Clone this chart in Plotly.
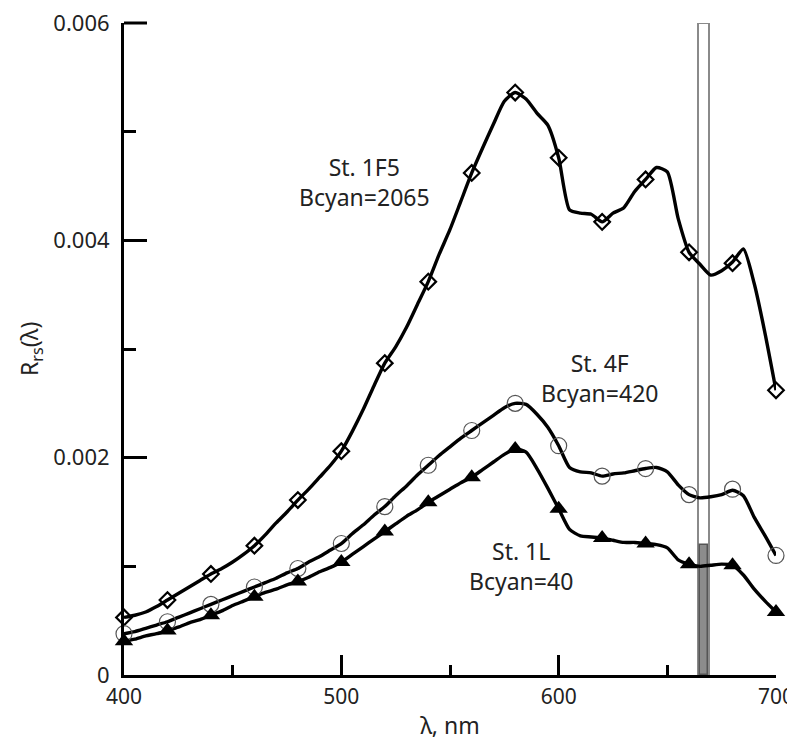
import plotly.graph_objects as go

# ---------------- data ----------------
wl_line = list(range(400, 701, 5))
st1f5_line = [0.00053, 0.00055, 0.00058, 0.00063, 0.00069, 0.00075, 0.00081, 0.00087, 0.00093, 0.00098,
              0.00104, 0.00111, 0.00119, 0.00129, 0.00140, 0.00150, 0.00161, 0.00171, 0.00182, 0.00193,
              0.00206, 0.00224, 0.00244, 0.00266, 0.00287, 0.00302, 0.00320, 0.00341, 0.00362, 0.00387,
              0.00410, 0.00436, 0.00462, 0.00485, 0.00507, 0.00528, 0.00536, 0.00530, 0.00517, 0.00506,
              0.00476, 0.00428, 0.00425, 0.00424, 0.00417, 0.00425, 0.00430, 0.00445, 0.00456, 0.00467,
              0.00463, 0.00420, 0.00389, 0.00378, 0.00368, 0.00372, 0.00380, 0.00392, 0.00360, 0.00314,
              0.00262]
st4f_line = [0.00038, 0.00040, 0.00043, 0.00046, 0.00049, 0.00053, 0.00057, 0.00061, 0.00065, 0.00069,
             0.00073, 0.00077, 0.00081, 0.00085, 0.00089, 0.00094, 0.00098, 0.00104, 0.00109, 0.00115,
             0.00121, 0.00130, 0.00138, 0.00147, 0.00155, 0.00165, 0.00174, 0.00184, 0.00193, 0.00202,
             0.00210, 0.00218, 0.00225, 0.00232, 0.00239, 0.00246, 0.00250, 0.00249, 0.00240, 0.00228,
             0.00211, 0.00191, 0.00187, 0.00186, 0.00183, 0.00185, 0.00186, 0.00188, 0.00190, 0.00191,
             0.00187, 0.00175, 0.00166, 0.00163, 0.00164, 0.00166, 0.00170, 0.00165, 0.00145, 0.00128,
             0.00110]
st1l_line = [0.00031, 0.00033, 0.00036, 0.00038, 0.00041, 0.00044, 0.00048, 0.00051, 0.00055, 0.00059,
             0.00064, 0.00068, 0.00072, 0.00076, 0.00079, 0.00083, 0.00086, 0.00090, 0.00095, 0.00099,
             0.00104, 0.00111, 0.00118, 0.00125, 0.00132, 0.00139, 0.00146, 0.00152, 0.00159, 0.00165,
             0.00171, 0.00177, 0.00182, 0.00189, 0.00196, 0.00203, 0.00208, 0.00205, 0.00190, 0.00172,
             0.00153, 0.00134, 0.00128, 0.00127, 0.00126, 0.00124, 0.00122, 0.00122, 0.00121, 0.00120,
             0.00117, 0.00106, 0.00102, 0.00100, 0.00101, 0.00102, 0.00101, 0.00092, 0.00079, 0.00068,
             0.00058]

wl_marks = list(range(400, 701, 20))
st1f5_marks = [0.00053, 0.00069, 0.00093, 0.00119, 0.00161, 0.00206, 0.00287, 0.00362, 0.00462, 0.00536,
               0.00476, 0.00417, 0.00456, 0.00389, 0.00379, 0.00262]
st4f_marks = [0.00038, 0.00049, 0.00065, 0.00081, 0.00098, 0.00121, 0.00155, 0.00193, 0.00225, 0.00250,
              0.00211, 0.00183, 0.00190, 0.00166, 0.00171, 0.00110]
st1l_marks = [0.00031, 0.00041, 0.00055, 0.00072, 0.00086, 0.00104, 0.00132, 0.00159, 0.00182, 0.00208,
              0.00153, 0.00126, 0.00121, 0.00102, 0.00101, 0.00058]

band_center = [666.7]
band_outer_width = [5.3]
band_outer_height = [0.006]
band_inner_center = [666.8]
band_inner_width = [3.6]
band_inner_height = [0.0012]

x_range = [400, 700]
y_range = [0, 0.006]
x_tickvals = [400, 500, 600, 700]
x_ticktext = ["400", "500", "600", "700"]
y_tickvals = [0, 0.002, 0.004, 0.006]
y_ticktext = ["0", "0.002", "0.004", "0.006"]

labels = ["St. 1F5<br>Bcyan=2065", "St. 4F<br>Bcyan=420", "St. 1L<br>Bcyan=40"]
label_x = [510.5, 618.6, 582.7]
label_y = [0.00454, 0.00273, 0.00100]

FONT = "Noto Sans"
TXT = "#222222"

# page body has an 8 px margin, so the figure is 8 px smaller than the window
W, H = 787, 736
ML, MR, MT, MB = 116, 19, 15, 69
Y_MAJOR_TICKLEN = 23
PLOT_W = W - ML - MR

fig = go.Figure()

# band rectangles (behind the curves)
fig.add_trace(go.Bar(x=band_center, y=band_outer_height, width=band_outer_width, base=0,
                     marker=dict(color="white", line=dict(color="#8a8a8a", width=2)),
                     showlegend=False, hoverinfo="skip"))
fig.add_trace(go.Bar(x=band_inner_center, y=band_inner_height, width=band_inner_width, base=0,
                     marker=dict(color="#8c8c8c", line=dict(color="#555555", width=1.5)),
                     showlegend=False, hoverinfo="skip"))

for yl in (st1f5_line, st4f_line, st1l_line):
    fig.add_trace(go.Scatter(x=wl_line, y=yl, mode="lines",
                             line=dict(color="black", width=3.4, shape="spline", smoothing=0.6),
                             showlegend=False, hoverinfo="skip", cliponaxis=False))

fig.add_trace(go.Scatter(x=wl_marks, y=st1f5_marks, mode="markers",
                         marker=dict(symbol="diamond-open", size=12, color="black",
                                     line=dict(color="black", width=2.2)),
                         showlegend=False, cliponaxis=False))
fig.add_trace(go.Scatter(x=wl_marks, y=st4f_marks, mode="markers",
                         marker=dict(symbol="circle-open", size=16, color="#555555",
                                     line=dict(color="#555555", width=1.2)),
                         showlegend=False, cliponaxis=False))
fig.add_trace(go.Scatter(x=wl_marks, y=st1l_marks, mode="markers",
                         marker=dict(symbol="triangle-up", size=16, color="black",
                                     line=dict(color="black", width=0)),
                         showlegend=False, cliponaxis=False))

for t, xx, yy in zip(labels, label_x, label_y):
    fig.add_annotation(x=xx, y=yy, xref="x", yref="y", text=t, showarrow=False,
                       font=dict(family=FONT, size=23, color=TXT), align="center")

# y axis title (centre at x = 30 px in the window)
fig.add_annotation(x=(30 - 8 - ML) / PLOT_W, y=0.5, xref="paper", yref="paper",
                   text="R<sub>rs</sub>(λ)",
                   showarrow=False, textangle=-90, xanchor="center", yanchor="middle",
                   font=dict(family=FONT, size=23, color=TXT))

# top major tick of the y axis (paper refs so it is not clipped at the plot edge)
top_frac = (y_tickvals[-1] - y_range[0]) / (y_range[1] - y_range[0])
fig.add_shape(type="line", xref="paper", yref="paper",
              x0=0, x1=Y_MAJOR_TICKLEN / PLOT_W, y0=top_frac, y1=top_frac,
              line=dict(color="black", width=3), layer="above")

fig.update_layout(
    width=W, height=H,
    margin=dict(l=ML, r=MR, t=MT, b=MB, pad=0, autoexpand=False),
    paper_bgcolor="white", plot_bgcolor="white",
    barmode="overlay", bargap=0,
    font=dict(family=FONT, size=22, color=TXT),
    xaxis=dict(range=x_range, tickvals=x_tickvals, ticktext=x_ticktext,
               ticks="inside", ticklen=20, tickwidth=3, tickcolor="black",
               showline=True, linecolor="black", linewidth=3, mirror=False,
               showgrid=False, zeroline=False, automargin=False, ticklabelstandoff=1,
               ticklabeloverflow="allow",
               minor=dict(ticks="inside", ticklen=10, tickwidth=3, tickcolor="black", dtick=50, tick0=400,
                          showgrid=False),
               title=dict(text="λ, nm", standoff=9, font=dict(family=FONT, size=23, color=TXT)),
               tickfont=dict(family=FONT, size=21, color=TXT)),
    yaxis=dict(range=y_range, tickvals=y_tickvals, ticktext=y_ticktext,
               ticks="inside", ticklen=Y_MAJOR_TICKLEN, tickwidth=3, tickcolor="black",
               showline=True, linecolor="black", linewidth=3, mirror=False,
               showgrid=False, zeroline=False, automargin=False, ticklabelstandoff=7,
               ticklabeloverflow="allow",
               minor=dict(ticks="inside", ticklen=12, tickwidth=3, tickcolor="black", dtick=0.001, tick0=0,
                          showgrid=False),
               tickfont=dict(family=FONT, size=22, color=TXT)),
)

fig.write_html("out.html")
